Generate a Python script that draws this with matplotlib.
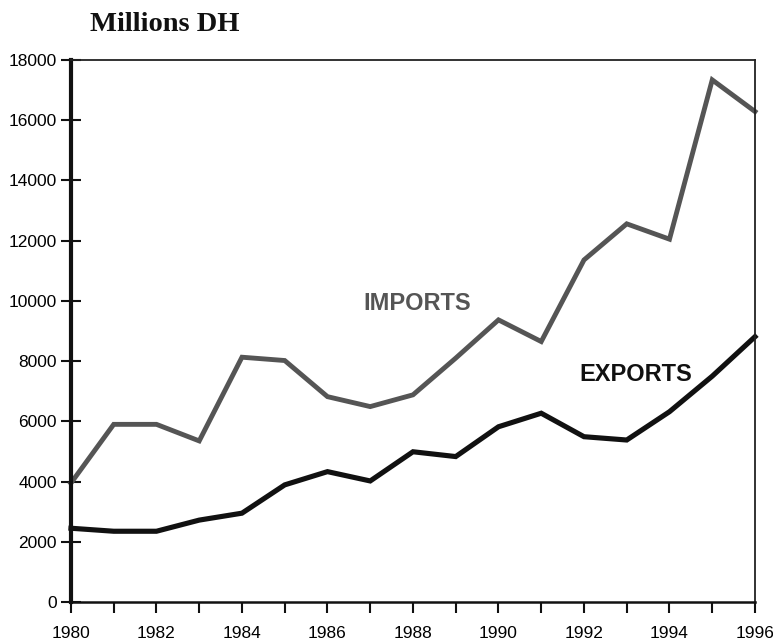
import matplotlib.pyplot as plt
import numpy as np

years = np.arange(1980, 1997)
imports = [3950, 5900, 5900, 5350, 8130, 8020, 6820, 6490, 6880, 8100,
           9370, 8650, 11360, 12560, 12050, 17340, 16290]
exports = [2450, 2350, 2350, 2720, 2950, 3890, 4330, 4020, 4990, 4830,
           5820, 6270, 5490, 5380, 6320, 7500, 8810]
yticks = list(range(0, 18001, 2000))

plt.rcParams['font.family'] = ['Liberation Sans', 'DejaVu Sans']

fig = plt.figure(figsize=(7.73, 6.42), dpi=100)
ax = fig.add_axes([0.0918, 0.0623, 0.8849, 0.8442])

ax.plot(years, imports, color='#555555', lw=3.5, solid_joinstyle='miter', clip_on=False)
ax.plot(years, exports, color='#111111', lw=3.7, solid_joinstyle='miter', clip_on=False)

ax.set_xlim(1980, 1996)
ax.set_ylim(0, 18000)

# ticks every year, labels only on even years
ax.set_xticks(years)
ax.set_xticklabels([str(y) if y % 2 == 0 else '' for y in years], fontsize=12.5)
ax.set_yticks(yticks)
ax.set_yticklabels([str(v) for v in yticks], fontsize=12.5)
ax.tick_params(axis='x', direction='out', length=8, width=1.5, pad=9, color='#111111')
ax.tick_params(axis='y', direction='inout', length=14, width=1.5, pad=3, color='#111111')

for s in ['top', 'right']:
    ax.spines[s].set_linewidth(1.3)
    ax.spines[s].set_color('#222222')
ax.spines['left'].set_linewidth(3)
ax.spines['left'].set_color('#111111')
ax.spines['bottom'].set_linewidth(1.8)
ax.spines['bottom'].set_color('#111111')

ax.text(1988.1, 9930, 'IMPORTS', color='#555555', fontsize=17, fontweight='bold',
        ha='center', va='center')
ax.text(1993.2, 7570, 'EXPORTS', color='#111111', fontsize=17, fontweight='bold',
        ha='center', va='center')

fig.text(0.116, 0.962, 'Millions DH', family=['Liberation Serif', 'DejaVu Serif'],
         fontsize=20.5, fontweight='bold', ha='left', va='center', color='#111111')

fig.savefig('out.png', dpi=100)
